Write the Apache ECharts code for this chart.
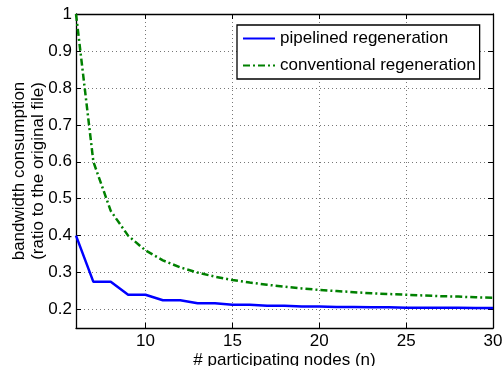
<!DOCTYPE html>
<html>
<head>
<meta charset="utf-8">
<script src="https://cdn.jsdelivr.net/npm/echarts@6/dist/echarts.min.js"></script>
<style>
  html, body { margin: 0; padding: 0; background: #fff; }
  #chart { width: 504px; height: 366px; }
</style>
</head>
<body>
<div id="chart"></div>
<script>
const nodes = [6, 7, 8, 9, 10, 11, 12, 13, 14, 15, 16, 17, 18, 19, 20, 21, 22, 23, 24, 25, 26, 27, 28, 29, 30]
const pipelined = [0.4, 0.275, 0.275, 0.24, 0.24, 0.225, 0.225, 0.217, 0.217, 0.213, 0.213, 0.21, 0.21,
  0.208, 0.208, 0.207, 0.207, 0.206, 0.206, 0.205, 0.205, 0.205, 0.205, 0.204, 0.204]
const conventional = [1.0, 0.6, 0.467, 0.4, 0.36, 0.333, 0.314, 0.3, 0.289, 0.28, 0.273, 0.267, 0.262,
  0.257, 0.253, 0.25, 0.247, 0.244, 0.242, 0.24, 0.238, 0.236, 0.235, 0.233, 0.232]
const seriesNames = ['pipelined regeneration', 'conventional regeneration']

const FONT = '"Liberation Sans", Arial, sans-serif'

function pairs (values) {
  return nodes.map((n, i) => [n, values[i]])
}

const gridLine = {
  show: true,
  lineStyle: { color: '#777', width: 1, type: [1, 3] }
}

function frameAxis (extra) {
  return Object.assign({
    type: 'value',
    axisLine: { show: true, onZero: false, lineStyle: { color: '#000', width: 1.3 } },
    axisTick: { show: true, inside: true, length: 5, lineStyle: { color: '#000' } }
  }, extra)
}

const chart = echarts.init(document.getElementById('chart'), null, { renderer: 'canvas' })

const option = {
  animation: false,
  textStyle: { fontFamily: FONT },
  grid: { left: 76, right: 11, top: 14, bottom: 38, outerBoundsMode: 'none', containLabel: false },
  legend: {
    data: seriesNames,
    orient: 'vertical',
    left: 237,
    top: 25,
    padding: [5, 4, 5, 5],
    itemWidth: 32,
    itemHeight: 14,
    itemGap: 10,
    backgroundColor: '#fff',
    borderColor: '#000',
    borderWidth: 1.3,
    borderRadius: 0,
    itemStyle: { opacity: 0 },
    textStyle: { fontFamily: FONT, fontSize: 17, color: '#000' }
  },
  xAxis: [
    frameAxis({
      min: 6,
      max: 30,
      splitNumber: 5,
      position: 'bottom',
      name: '# participating nodes (n)',
      nameLocation: 'middle',
      nameGap: 24,
      nameMoveOverlap: false,
      nameTextStyle: { fontFamily: FONT, fontSize: 17, color: '#000' },
      axisLabel: { showMinLabel: false, fontFamily: FONT, fontSize: 17, color: '#000', margin: 5 },
      splitLine: Object.assign({ showMinLine: false, showMaxLine: false }, gridLine)
    }),
    frameAxis({
      min: 6,
      max: 30,
      splitNumber: 5,
      position: 'top',
      axisLabel: { show: false },
      splitLine: { show: false }
    })
  ],
  yAxis: [
    frameAxis({
      min: 0.15,
      max: 1,
      splitNumber: 8,
      position: 'left',
      name: 'bandwidth consumption\n(ratio to the original file)',
      nameLocation: 'middle',
      nameRotate: 90,
      nameGap: 28,
      nameMoveOverlap: false,
      nameTextStyle: { fontFamily: FONT, fontSize: 17, color: '#000', lineHeight: 19 },
      axisLabel: { showMinLabel: false, fontFamily: FONT, fontSize: 17, color: '#000', margin: 4 },
      splitLine: Object.assign({ showMinLine: false, showMaxLine: false }, gridLine)
    }),
    frameAxis({
      min: 0.15,
      max: 1,
      splitNumber: 8,
      position: 'right',
      axisLabel: { show: false },
      splitLine: { show: false }
    })
  ],
  series: [
    {
      name: seriesNames[0],
      type: 'line',
      xAxisIndex: 0,
      yAxisIndex: 0,
      data: pairs(pipelined),
      symbol: 'none',
      color: '#0000ff',
      lineStyle: { color: '#0000ff', width: 2.5 }
    },
    {
      name: seriesNames[1],
      type: 'line',
      xAxisIndex: 0,
      yAxisIndex: 0,
      data: pairs(conventional),
      symbol: 'none',
      color: '#008000',
      lineStyle: { color: '#008000', width: 2.5, type: [7, 3, 2, 3] }
    }
  ]
}

chart.setOption(option)
</script>
</body>
</html>
